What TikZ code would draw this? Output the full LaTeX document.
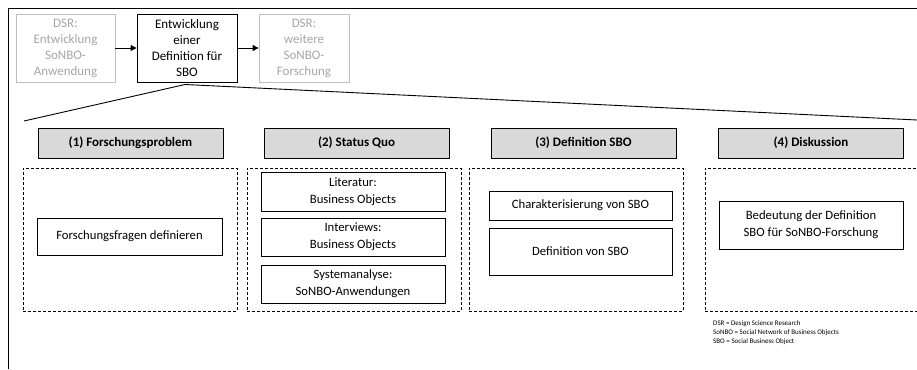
\documentclass[tikz,border=0pt]{standalone}
\usepackage{fontspec}
\setmainfont{Carlito}
\usetikzlibrary{arrows.meta}
\definecolor{lgray}{HTML}{A6A6A6}
\definecolor{bgray}{HTML}{BFBFBF}
\definecolor{hfill}{HTML}{D9D9D9}
\tikzset{
  topbox/.style={draw=bgray, text=lgray, line width=0.8pt, align=center, inner sep=0pt, font=\fontsize{13}{16}\selectfont},
  topmain/.style={draw=black, text=black, line width=0.9pt, align=center, inner sep=0pt, font=\fontsize{13}{16}\selectfont},
  head/.style={draw=black, fill=hfill, line width=0.7pt, minimum width=185pt, minimum height=30pt, inner sep=0pt, font=\bfseries\fontsize{13}{15}\selectfont},
  group/.style={draw=black, dashed, dash pattern=on 3pt off 2pt, line width=0.6pt, minimum width=214pt, minimum height=143pt, inner sep=0pt},
  item/.style={draw=black, line width=0.7pt, align=center, inner sep=0pt, font=\fontsize{12.7}{17}\selectfont},
  conn/.style={line width=0.9pt},
  arr/.style={line width=0.9pt, -{Triangle[length=6pt,width=6pt]}},
  note/.style={anchor=west, inner sep=0pt, font=\fontsize{7}{8}\selectfont}
}
\begin{document}
\begin{tikzpicture}[x=1pt,y=-1pt]
\useasboundingbox (0,0) rectangle (917,369);
% frame
\draw[line width=0.9pt] (8,369) -- (8,8) -- (917,8);
% top row
\node[topbox, minimum width=99pt, minimum height=68pt] (a) at (65.5,48) {DSR:\\Entwicklung\\SoNBO-\\Anwendung};
\node[topmain, minimum width=100pt, minimum height=68pt] (b) at (187,48) {Entwicklung\\einer\\Definition für\\SBO};
\node[topbox, minimum width=90pt, minimum height=68pt] (c) at (304,48) {DSR:\\weitere\\SoNBO-\\Forschung};
\draw[arr] (a) -- (b);
\draw[arr] (b) -- (c);
% zoom lines
\coordinate (zl) at (24,121);
\coordinate (zr) at (917,120);
\coordinate (zs) at (185,84.5);
\draw[conn] (zl) -- (zs) -- (zr);
% headers
\node[head] (h1) at (130.5,143) {(1) Forschungsproblem};
\node[head] (h2) at (356.5,143) {(2) Status Quo};
\node[head] (h3) at (583.5,143) {(3) Definition SBO};
\node[head] (h4) at (811,143) {(4) Diskussion};
% groups
\node[group] (g1) at (130,239.5) {};
\node[group] (g2) at (354,239.5) {};
\node[group] (g3) at (576,239.5) {};
\node[group] (g4) at (812,239.5) {};
% items
\node[item, minimum width=185pt, minimum height=37pt] (i1) at (129.5,236.5) {Forschungsfragen definieren};
\node[item, minimum width=184pt, minimum height=39pt] (i2) at (353,191.5) {Literatur:\\Business Objects};
\node[item, minimum width=184pt, minimum height=38pt] (i3) at (353,237) {Interviews:\\Business Objects};
\node[item, minimum width=184pt, minimum height=38pt] (i4) at (353,284) {Systemanalyse:\\SoNBO-Anwendungen};
\node[item, minimum width=183pt, minimum height=29pt] (i5) at (580.5,205.5) {Charakterisierung von SBO};
\node[item, minimum width=183pt, minimum height=47pt] (i6) at (580.5,251.5) {Definition von SBO};
\node[item, minimum width=184pt, minimum height=48pt] (i7) at (811,225) {Bedeutung der Definition\\SBO für SoNBO-Forschung};
% notes
\node[note] (n1) at (713,324) {DSR = Design Science Research};
\node[note] (n2) at (713,333) {SoNBO = Social Network of Business Objects};
\node[note] (n3) at (713,342) {SBO = Social Business Object};
\end{tikzpicture}
\end{document}
